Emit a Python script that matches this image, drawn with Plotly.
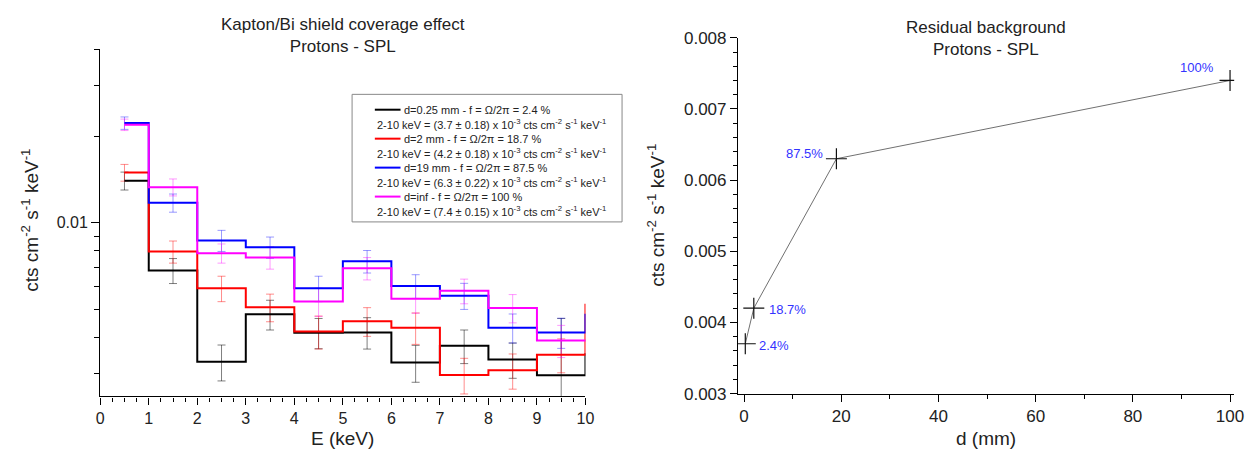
import numpy as np
import plotly.graph_objects as go

W, H = 1260, 464
FONT = "Liberation Sans, Arial, sans-serif"

# ---------------- data: left panel (step spectra) ----------------
E_centers = [0.5, 1.5, 2.5, 3.5, 4.5, 5.5, 6.5, 7.5, 8.5, 9.5]
E_steps = E_centers + [10.5]

rate_d025 = [0.0140, 0.00684, 0.0033, 0.00482, 0.00416, 0.00417, 0.00328, 0.00375, 0.00336, 0.00296, 0.0035]
rate_d2 = [0.01495, 0.00795, 0.00593, 0.0051, 0.0042, 0.00456, 0.00433, 0.00297, 0.00308, 0.00349, 0.0052]
rate_d19 = [0.0222, 0.01174, 0.00869, 0.00823, 0.00593, 0.00736, 0.00604, 0.00559, 0.00433, 0.00417, 0.0048]
rate_dinf = [0.0219, 0.0133, 0.00785, 0.00759, 0.00534, 0.00696, 0.00546, 0.00581, 0.00507, 0.00391, 0.00391]

err_d025 = [0.001, 0.00068, 0.00047, 0.00057, 0.0005, 0.00052, 0.00048, 0.0005, 0.00047, 0.0017]
err_d2 = [0.001, 0.0007, 0.0006, 0.00056, 0.00055, 0.00052, 0.00054, 0.00042, 0.00043, 0.00047]
err_d19 = [0.0011, 0.00085, 0.00073, 0.0007, 0.0006, 0.00066, 0.00057, 0.00058, 0.0005, 0.0005]
err_dinf = [0.001, 0.0009, 0.0006, 0.00068, 0.0006, 0.00062, 0.0006, 0.00057, 0.00057, 0.0005]

series_names = [
    "d=0.25 mm - f = Ω/2π = 2.4 %",
    "d=2 mm - f = Ω/2π = 18.7 %",
    "d=19 mm - f = Ω/2π = 87.5 %",
    "d=inf - f = Ω/2π = 100 %",
]
series_details = [
    "2-10 keV = (3.7 ± 0.18) x 10<sup>-3</sup> cts cm<sup>-2</sup> s<sup>-1</sup> keV<sup>-1</sup>",
    "2-10 keV = (4.2 ± 0.18) x 10<sup>-3</sup> cts cm<sup>-2</sup> s<sup>-1</sup> keV<sup>-1</sup>",
    "2-10 keV = (6.3 ± 0.22) x 10<sup>-3</sup> cts cm<sup>-2</sup> s<sup>-1</sup> keV<sup>-1</sup>",
    "2-10 keV = (7.4 ± 0.15) x 10<sup>-3</sup> cts cm<sup>-2</sup> s<sup>-1</sup> keV<sup>-1</sup>",
]
series_colors = ["#000000", "#ff0000", "#0000ff", "#ff00ff"]
err_colors = ["rgba(0,0,0,0.5)", "rgba(255,0,0,0.45)", "rgba(0,0,255,0.4)", "rgba(255,0,255,0.4)"]

# ---------------- data: right panel ----------------
d_mm = [0.25, 2, 19, 100]
residual = [0.0037, 0.0042, 0.0063, 0.0074]
coverage_labels = ["2.4%", "18.7%", "87.5%", "100%"]

left_y_major = [0.01]
left_y_minor = [0.003, 0.004, 0.005, 0.006, 0.007, 0.008, 0.009, 0.02, 0.03, 0.04]


def px(x):
    return x / W


def py(y):
    return 1 - y / H


fig = go.Figure()

rates = [rate_d025, rate_d2, rate_d19, rate_dinf]
errs = [err_d025, err_d2, err_d19, err_dinf]

for i in range(4):
    fig.add_trace(go.Scatter(
        x=E_centers, y=rates[i][:len(E_centers)], mode="markers",
        marker=dict(size=2, color="rgba(0,0,0,0)"),
        error_y=dict(type="data", array=errs[i], color=err_colors[i], thickness=1, width=4),
        showlegend=False, hoverinfo="skip", xaxis="x", yaxis="y"))
for i in range(4):
    fig.add_trace(go.Scatter(
        x=E_steps, y=rates[i], mode="lines",
        line=dict(color=series_colors[i], width=2, shape="hvh"),
        name=series_names[i], showlegend=False, xaxis="x", yaxis="y"))

fig.add_trace(go.Scatter(
    x=d_mm, y=residual, mode="lines+markers",
    line=dict(color="#707070", width=1),
    marker=dict(symbol="cross-thin", size=15, line=dict(color="#111111", width=1.2)),
    showlegend=False, xaxis="x2", yaxis="y2"))

axis_common = dict(showline=True, linecolor="black", linewidth=1.3, showgrid=False,
                   zeroline=False, ticks="outside", tickcolor="black", tickwidth=1.2)

fig.update_layout(
    width=W, height=H,
    margin=dict(l=0, r=0, t=0, b=0),
    paper_bgcolor="white", plot_bgcolor="white",
    font=dict(family=FONT, color="#222222"),
    showlegend=False,
    xaxis=dict(domain=[px(97.3), px(588)], range=[0, 10], anchor="y", dtick=1, tick0=0,
               ticklen=7, tickfont=dict(size=16, family=FONT),
               minor=dict(dtick=0.25, tick0=0, ticks="outside", ticklen=4, tickcolor="black", tickwidth=1),
               **axis_common),
    yaxis=dict(domain=[py(404), py(42)], type="log",
               range=[np.log10(0.0025), np.log10(0.04)], anchor="x",
               tickmode="array", tickvals=left_y_major, ticktext=["0.01"],
               ticklen=8, tickfont=dict(size=16, family=FONT),
               minor=dict(tickmode="array", tickvals=left_y_minor, ticks="outside",
                          ticklen=5, tickcolor="black", tickwidth=1),
               **axis_common),
    xaxis2=dict(domain=[px(742.3), px(1244)], range=[-1.24, 100.85], anchor="y2",
                dtick=20, tick0=0, ticklen=7, tickfont=dict(size=17, family=FONT),
                minor=dict(dtick=10, tick0=0, ticks="outside", ticklen=4, tickcolor="black", tickwidth=1),
                **axis_common),
    yaxis2=dict(domain=[py(401), py(30)], range=[0.003, 0.008], anchor="x2",
                dtick=0.001, tick0=0.003, tickformat=".3f", ticklen=7,
                tickfont=dict(size=17, family=FONT),
                minor=dict(dtick=0.0002, tick0=0.003, ticks="outside", ticklen=4, tickcolor="black", tickwidth=1),
                **axis_common),
)

ann = []
# titles
ann.append(dict(text="Kapton/Bi shield coverage effect<br>Protons - SPL", x=px(342.5), y=py(28),
                xref="paper", yref="paper", showarrow=False, xanchor="center", yanchor="middle",
                font=dict(size=17, family=FONT, color="#222")))
ann.append(dict(text="Residual background<br>Protons - SPL", x=px(993), y=py(31),
                xref="paper", yref="paper", showarrow=False, xanchor="center", yanchor="middle",
                font=dict(size=17, family=FONT, color="#222")))
# axis titles
ann.append(dict(text="E (keV)", x=px(342.5), y=py(448), xref="paper", yref="paper", showarrow=False,
                xanchor="center", yanchor="middle", font=dict(size=19, family=FONT, color="#222")))
ann.append(dict(text="d (mm)", x=px(993), y=py(448), xref="paper", yref="paper", showarrow=False,
                xanchor="center", yanchor="middle", font=dict(size=19, family=FONT, color="#222")))
ytitle = "cts cm<sup>-2</sup> s<sup>-1</sup> keV<sup>-1</sup>"
ann.append(dict(text=ytitle, x=px(26), y=py(220), xref="paper", yref="paper", showarrow=False,
                textangle=-90, xanchor="center", yanchor="middle", font=dict(size=19, family=FONT, color="#222")))
ann.append(dict(text=ytitle, x=px(660), y=py(215), xref="paper", yref="paper", showarrow=False,
                textangle=-90, xanchor="center", yanchor="middle", font=dict(size=19, family=FONT, color="#222")))

# point labels on right panel
label_offsets = [(12, -2, "left"), (13, -1, "left"), (-11, 5, "right"), (-14, 13, "right")]
for i in range(len(d_mm)):
    dx, dy, anc = label_offsets[i]
    ann.append(dict(text=coverage_labels[i], x=d_mm[i], y=residual[i], xref="x2", yref="y2",
                    showarrow=False, xanchor=anc, yanchor="middle", xshift=dx, yshift=dy,
                    font=dict(size=13, family=FONT, color="#3333ff")))

# custom legend
shapes = [dict(type="rect", xref="paper", yref="paper", x0=px(352), x1=px(625), y0=py(222), y1=py(89),
               line=dict(color="#888888", width=1), fillcolor="white", layer="below")]
row_y0, row_dy = 105, 15.1
for i in range(4):
    yn = row_y0 + (2 * i) * row_dy
    yd = row_y0 + (2 * i + 1) * row_dy
    shapes.append(dict(type="line", xref="paper", yref="paper", x0=px(375), x1=px(401),
                       y0=py(yn), y1=py(yn), line=dict(color=series_colors[i], width=2)))
    ann.append(dict(text=series_names[i], x=px(402), y=py(yn), xref="paper", yref="paper",
                    showarrow=False, xanchor="left", yanchor="middle",
                    font=dict(size=11, family=FONT, color="#222")))
    ann.append(dict(text=series_details[i], x=px(375), y=py(yd), xref="paper", yref="paper",
                    showarrow=False, xanchor="left", yanchor="middle",
                    font=dict(size=11, family=FONT, color="#222")))

fig.update_layout(annotations=ann, shapes=shapes)
fig.write_html("out.html")
